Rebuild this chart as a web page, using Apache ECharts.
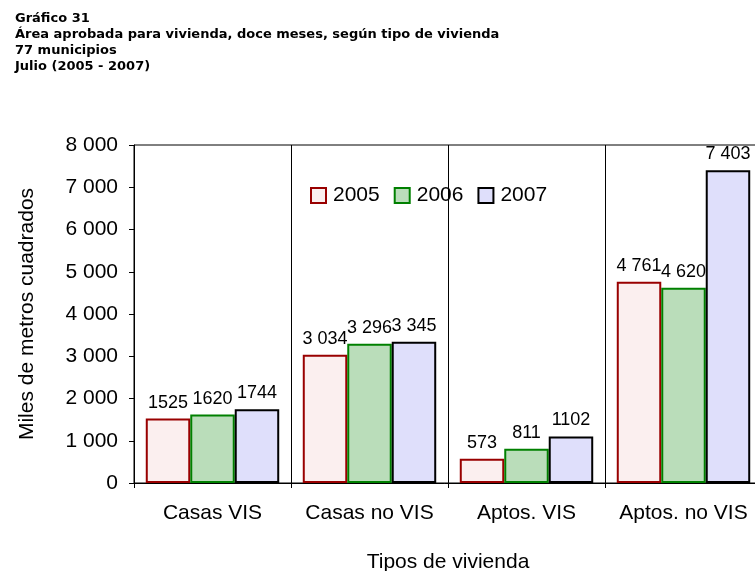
<!DOCTYPE html>
<html>
<head>
<meta charset="utf-8">
<script src="https://cdn.jsdelivr.net/npm/echarts@6/dist/echarts.min.js"></script>
<style>
  html, body { margin: 0; padding: 0; background: #fff; }
  #chart { width: 755px; height: 571px; }
</style>
</head>
<body>
<div id="chart"></div>
<script>
const titleLines = ['Gráfico 31', 'Área aprobada para vivienda, doce meses, según tipo de vivienda', '77 municipios', 'Julio (2005 - 2007)'];
const categories = ['Casas VIS', 'Casas no VIS', 'Aptos. VIS', 'Aptos. no VIS'];
const seriesNames = ['2005', '2006', '2007'];
const values2005 = [1525, 3034, 573, 4761];
const values2006 = [1620, 3296, 811, 4620];
const values2007 = [1744, 3345, 1102, 7403];
const yAxisName = 'Miles de metros cuadrados';
const xAxisName = 'Tipos de vivienda';
const yMin = 0, yMax = 8000, yInterval = 1000;

const fills = ['#FBEFEF', '#BADDBA', '#DFDFFB'];
const borders = ['#990000', '#008000', '#000000'];
const allValues = [values2005, values2006, values2007];

function fmtThousands(v) {
  const s = String(Math.round(v));
  return s.replace(/\B(?=(\d{3})+(?!\d))/g, ' ');
}

const chart = echarts.init(document.getElementById('chart'), null, { renderer: 'canvas' });
const option = {
  backgroundColor: '#ffffff',
  animation: false,
  title: {
    text: titleLines.join('\n'),
    left: 10, top: 6,
    textStyle: { fontFamily: 'DejaVu Sans', fontWeight: 'bold', fontSize: 13, lineHeight: 16, color: '#000' }
  },
  legend: {
    data: seriesNames,
    left: 305, top: 180,
    icon: 'rect',
    itemWidth: 15, itemHeight: 15, itemGap: 14,
    textStyle: { fontFamily: 'Liberation Sans', fontSize: 21, color: '#000', padding: [0, 0, 0, 2] }
  },
  grid: {
    left: 134, top: 145, bottom: 88, right: -7,
    containLabel: false, outerBoundsMode: 'none',
    show: true, borderColor: '#000', borderWidth: 1, backgroundColor: 'transparent'
  },
  xAxis: {
    type: 'category',
    data: categories,
    name: xAxisName,
    nameLocation: 'middle',
    nameGap: 69,
    nameTextStyle: { fontFamily: 'Liberation Sans', fontSize: 21, color: '#000' },
    axisLine: { lineStyle: { color: '#000', width: 1 } },
    axisTick: { show: true, interval: 0, length: 5, lineStyle: { color: '#000' } },
    axisLabel: { interval: 0, fontFamily: 'Liberation Sans', fontSize: 21, color: '#000', margin: 20 },
    splitLine: { show: true, interval: 0, lineStyle: { color: '#000', width: 1 } }
  },
  yAxis: {
    type: 'value',
    min: yMin, max: yMax, interval: yInterval,
    name: yAxisName,
    nameLocation: 'middle',
    nameGap: 96,
    nameTextStyle: { fontFamily: 'Liberation Sans', fontSize: 21, color: '#000' },
    axisLine: { show: true, lineStyle: { color: '#000', width: 1 } },
    axisTick: { show: true, length: 5, lineStyle: { color: '#000' } },
    axisLabel: { fontFamily: 'Liberation Sans', fontSize: 21, color: '#000', margin: 16, formatter: fmtThousands },
    splitLine: { show: false }
  },
  series: seriesNames.map((name, i) => ({
    name: name,
    type: 'bar',
    data: allValues[i],
    barGap: '0%',
    barCategoryGap: '15%',
    itemStyle: { color: fills[i], borderColor: borders[i], borderWidth: 2 },
    label: {
      show: true, position: 'top', distance: 7,
      fontFamily: 'Liberation Sans', fontSize: 18, color: '#000',
      formatter: p => (p.dataIndex === 0 || p.dataIndex === 2) ? String(p.value) : fmtThousands(p.value)
    }
  }))
};
chart.setOption(option);
</script>
</body>
</html>
